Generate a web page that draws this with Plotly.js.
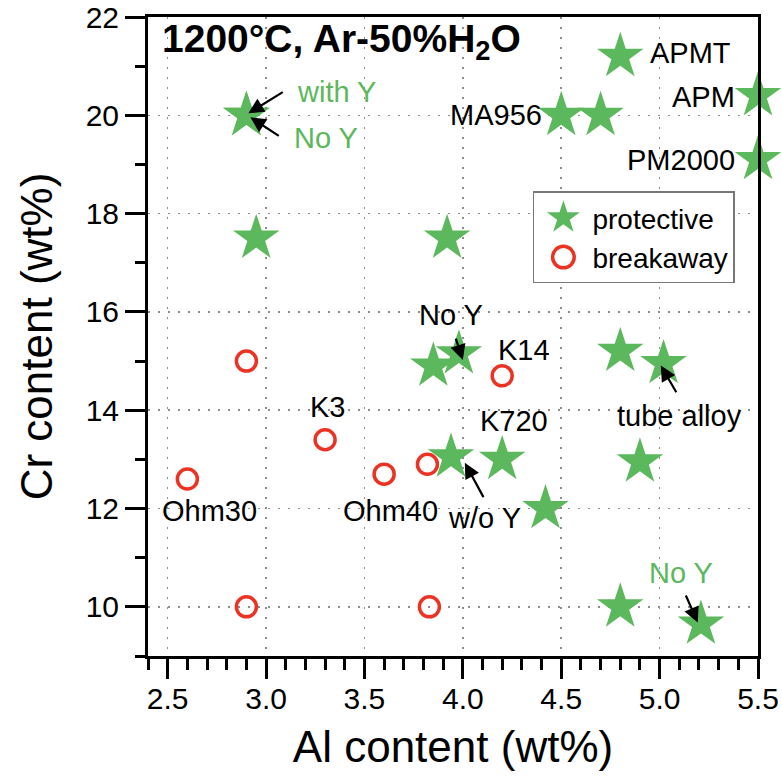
<!DOCTYPE html>
<html>
<head>
<meta charset="utf-8">
<script src="https://cdn.plot.ly/plotly-3.0.1.min.js"></script>
<style>
  html, body { margin: 0; padding: 0; background: #fff; }
  #chart { width: 782px; height: 778px; }
</style>
</head>
<body>
<div id="chart"></div>
<script>
// Alloy compositions, oxidised at 1200 °C in Ar-50%H2O
const protectiveAl = [2.9, 2.9, 2.95, 3.92, 4.8, 4.5, 4.7, 5.5, 5.5, 3.85, 3.98, 3.94, 4.2, 4.8, 5.02, 4.9, 4.42, 4.8, 5.21];
const protectiveCr = [20.0, 20.0, 17.5, 17.5, 21.2, 20.0, 20.0, 20.4, 19.1, 14.9, 15.15, 13.05, 13.0, 15.2, 14.95, 12.95, 12.0, 10.0, 9.65];

const breakawayAl = [2.9, 4.2, 3.3, 2.6, 3.6, 3.82, 2.9, 3.83];
const breakawayCr = [15.0, 14.7, 13.4, 12.6, 12.7, 12.9, 10.0, 10.0];

const seriesNames = ['protective', 'breakaway'];
const xTitle = 'Al content (wt%)';
const yTitle = 'Cr content (wt%)';
const xTickVals = [2.5, 3.0, 3.5, 4.0, 4.5, 5.0, 5.5];
const xTickText = ['2.5', '3.0', '3.5', '4.0', '4.5', '5.0', '5.5'];
const yTickVals = [10, 12, 14, 16, 18, 20, 22];

const GREEN = '#5cb85c';
const RED = '#ec3323';
const FONT = 'Liberation Sans, Arial, Helvetica, sans-serif';

const traces = [
  {
    x: breakawayAl, y: breakawayCr, name: seriesNames[1],
    type: 'scatter', mode: 'markers', cliponaxis: false, legendrank: 2,
    marker: { symbol: 'circle-open', size: 20, color: RED, line: { color: RED, width: 3.5 } }
  },
  {
    x: protectiveAl, y: protectiveCr, name: seriesNames[0],
    type: 'scatter', mode: 'markers', cliponaxis: false, legendrank: 1,
    marker: { symbol: 'star', size: 35, color: GREEN, line: { width: 0 } }
  }
];

// text labels: [text, x, y, xanchor, color]
const labels = [
  ['APMT', 4.94, 21.27, 'left', '#000'],
  ['APM', 5.393, 20.37, 'right', '#000'],
  ['MA956', 4.41, 20.0, 'right', '#000'],
  ['PM2000', 5.393, 19.09, 'right', '#000'],
  ['with Y', 3.146, 20.47, 'left', GREEN],
  ['No Y', 3.13, 19.54, 'left', GREEN],
  ['No Y', 3.94, 15.93, 'center', '#000'],
  ['K14', 4.17, 15.22, 'left', '#000'],
  ['K3', 3.31, 14.06, 'center', '#000'],
  ['K720', 4.26, 13.79, 'center', '#000'],
  ['Ohm30', 2.71, 11.96, 'center', '#000'],
  ['Ohm40', 3.63, 11.96, 'center', '#000'],
  ['w/o Y', 4.11, 11.8, 'center', '#000'],
  ['tube alloy', 5.10, 13.89, 'center', '#000'],
  ['No Y', 5.11, 10.68, 'center', GREEN]
];

// pointer arrows: [tailX, tailY, headX, headY]
const arrows = [
  [3.10, 20.51, 2.91, 20.04],
  [3.08, 19.54, 2.92, 19.96],
  [3.95, 15.63, 4.00, 15.02],
  [4.12, 12.12, 4.01, 12.93],
  [5.10, 14.26, 5.006, 14.91],
  [5.118, 10.37, 5.194, 9.68]
];

const annotations = [];
labels.forEach(([t, x, y, xa, c]) => {
  annotations.push({
    text: t, x: x, y: y, xref: 'x', yref: 'y', xanchor: xa, yanchor: 'middle',
    showarrow: false, font: { family: FONT, size: 29, color: c }
  });
});
arrows.forEach(([tx, ty, hx, hy]) => {
  annotations.push({
    text: ' ', x: hx, y: hy, xref: 'x', yref: 'y',
    ax: tx, ay: ty, axref: 'x', ayref: 'y',
    showarrow: true, arrowhead: 2, arrowsize: 1.4, arrowwidth: 2.2, arrowcolor: '#000',
    standoff: 0, startstandoff: 0
  });
});
annotations.push({
  text: '<b>1200°C, Ar-50%H<sub>2</sub>O</b>',
  xref: 'paper', yref: 'paper', x: 0.02, y: 0.962, xanchor: 'left', yanchor: 'middle',
  showarrow: false, font: { family: FONT, size: 39, color: '#000' }
});

const axisCommon = {
  showline: true, linecolor: '#000', linewidth: 3, mirror: true,
  ticks: 'outside', ticklen: 20, tickwidth: 3, tickcolor: '#000',
  showgrid: true, gridcolor: '#8c8c8c', gridwidth: 1.6, griddash: '2px,8px',
  zeroline: false,
  tickfont: { family: FONT, size: 30, color: '#000' }
};

const layout = {
  width: 782, height: 778,
  margin: { l: 148, r: 24, t: 17, b: 122 },
  paper_bgcolor: '#fff', plot_bgcolor: '#fff',
  font: { family: FONT, color: '#000' },
  showlegend: true,
  legend: {
    x: 0.631, y: 0.727, xanchor: 'left', yanchor: 'top',
    bordercolor: '#777', borderwidth: 1.5, bgcolor: '#fff',
    font: { family: FONT, size: 28, color: '#000' },
    itemwidth: 48, tracegroupgap: 0
  },
  xaxis: Object.assign({}, axisCommon, {
    range: [2.4, 5.5], tickvals: xTickVals, ticktext: xTickText,
    ticklabelstandoff: -6,
    minor: { dtick: 0.1, tick0: 2.4, ticklen: 11, tickwidth: 3, tickcolor: '#000', ticks: 'outside', showgrid: false },
    title: { text: xTitle, font: { family: FONT, size: 44, color: '#000' }, standoff: 18 }
  }),
  yaxis: Object.assign({}, axisCommon, {
    range: [9, 22], tickvals: yTickVals,
    minor: { dtick: 1, tick0: 9, ticklen: 10, tickwidth: 3, tickcolor: '#000', ticks: 'outside', showgrid: false },
    title: { text: yTitle, font: { family: FONT, size: 44, color: '#000' }, standoff: 20 }
  }),
  annotations: annotations
};

Plotly.newPlot('chart', traces, layout, { staticPlot: true }).then(() => {
  // enlarge the legend symbols, which Plotly caps at a small size
  document.querySelectorAll('.legend .traces').forEach(tr => {
    const name = tr.textContent.trim();
    tr.querySelectorAll('path.scatterpts').forEach(p => {
      const base = p.getAttribute('transform') || '';
      if (name === seriesNames[0]) {
        p.setAttribute('transform', base + ' scale(1.55)');
      } else {
        p.setAttribute('transform', base + ' scale(1.35)');
        p.style.strokeWidth = (3.5 / 1.35) + 'px';
      }
    });
  });
});
</script>
</body>
</html>
